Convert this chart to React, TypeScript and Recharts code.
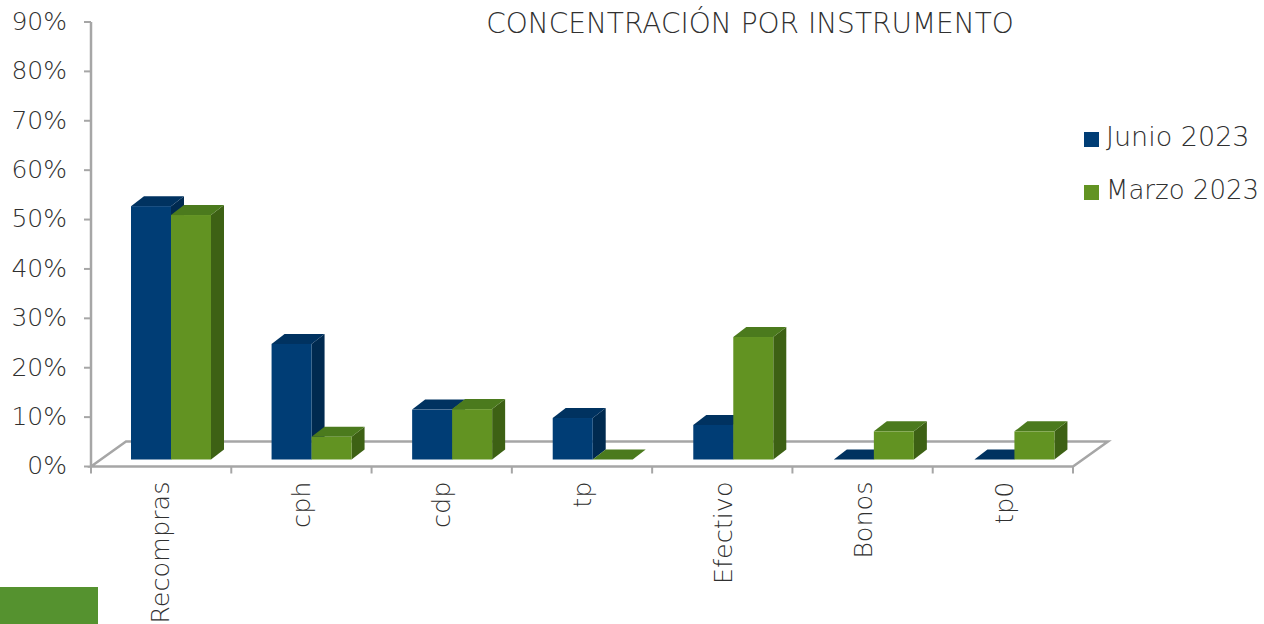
import React from "react";
import { Bar, BarChart, XAxis, YAxis, usePlotArea } from "recharts";

const categories = ["Recompras", "cph", "cdp", "tp", "Efectivo", "Bonos", "tp0"];
const junio = [51.3, 23.4, 10.1, 8.4, 7, 0, 0];
const marzo = [49.5, 4.6, 10.2, 0, 24.8, 5.7, 5.7];
const yTicks = [0, 10, 20, 30, 40, 50, 60, 70, 80, 90];

const data = categories.map((name, i) => ({ name, junio: junio[i], marzo: marzo[i] }));

const FONT = "'DejaVu Sans', sans-serif";
const TEXT_COLOR = "#303030";
const AXIS_COLOR = "#a6a6a6";
const DEPTH_X = 13;
const DEPTH_Y = 10;

const NAVY = { front: "#003d75", top: "#003260", side: "#002a50" };
const GREEN = { front: "#629322", top: "#4b7a1d", side: "#3d6114" };

const Bar3D = ({ x, y, width, height, colors }: any) => {
  // the bars stand a little inside the floor, not on its front edge
  const left = x + 10;
  const top = y - 7;
  const right = left + width;
  const bottom = top + height;
  return (
    <g>
      <polygon
        points={`${right},${top} ${right + DEPTH_X},${top - DEPTH_Y} ${right + DEPTH_X},${bottom - DEPTH_Y} ${right},${bottom}`}
        fill={colors.side}
      />
      <polygon
        points={`${left},${top} ${left + DEPTH_X},${top - DEPTH_Y} ${right + DEPTH_X},${top - DEPTH_Y} ${right},${top}`}
        fill={colors.top}
      />
      {height > 0 && <rect x={left} y={top} width={width} height={height} fill={colors.front} />}
    </g>
  );
};

const Floor = () => {
  const plot = usePlotArea();
  if (!plot) return null;
  const bottom = plot.y + plot.height;
  // plot is 2px wider than the drawn floor so the bars spread like the original
  const floorWidth = plot.width - 2;
  const right = plot.x + floorWidth;
  const step = floorWidth / categories.length;
  return (
    <g>
      <polygon
        points={`${plot.x},${bottom} ${plot.x + 35},${bottom - 25} ${right + 35},${bottom - 25} ${right},${bottom}`}
        fill="#ffffff"
        stroke={AXIS_COLOR}
        strokeWidth={2.5}
      />
      {[...categories, ""].map((_, i) => (
        <line
          key={i}
          x1={plot.x + i * step}
          x2={plot.x + i * step}
          y1={bottom}
          y2={bottom + 7}
          stroke={AXIS_COLOR}
          strokeWidth={2}
        />
      ))}
    </g>
  );
};

const CategoryTick = ({ x, y, payload }: any) => (
  <text
    transform={`translate(${x + 8},${y + 7}) rotate(-90)`}
    textAnchor="end"
    fontFamily={FONT}
    fontWeight={200}
    fontSize={25.5}
    fill={TEXT_COLOR}
  >
    {payload.value}
  </text>
);

const LegendRow = ({ top, color, label, size }: { top: number; color: string; label: string; size: number }) => (
  <>
    <div style={{ position: "absolute", left: 1084, top, width: 15, height: 15, background: color }} />
    <svg style={{ position: "absolute", left: 1106, top: top - 15, overflow: "visible" }} width={158} height={40}>
      <text x={0} y={29} fontFamily={FONT} fontWeight={200} fontSize={size} fill={TEXT_COLOR}>
        {label}
      </text>
    </svg>
  </>
);

export default function App() {
  return (
    <div style={{ position: "absolute", left: 0, top: 0, width: 1264, height: 624, overflow: "hidden", background: "#fff" }}>
      <BarChart
        width={1264}
        height={624}
        data={data}
        margin={{ top: 22, right: 189, bottom: 0, left: 0 }}
        barSize={40}
        barGap={0}
        barCategoryGap={30}
      >
        <XAxis
          dataKey="name"
          height={157.5}
          interval={0}
          tick={<CategoryTick />}
          tickLine={false}
          axisLine={false}
        />
        <YAxis
          width={91}
          domain={[0, 90]}
          ticks={yTicks}
          tickFormatter={(v: number) => `${v}%`}
          tick={{ fontFamily: FONT, fontWeight: 200, fontSize: 25, fill: TEXT_COLOR, dy: -1 }}
          tickSize={7}
          tickMargin={17}
          tickLine={{ stroke: AXIS_COLOR, strokeWidth: 2 }}
          axisLine={{ stroke: AXIS_COLOR, strokeWidth: 2.5 }}
        />
        <Floor />
        <Bar dataKey="junio" isAnimationActive={false} shape={(p: any) => <Bar3D {...p} colors={NAVY} />} />
        <Bar dataKey="marzo" isAnimationActive={false} shape={(p: any) => <Bar3D {...p} colors={GREEN} />} />
        <text x={750} y={33} textAnchor="middle" fontFamily={FONT} fontWeight={200} fontSize={28} fill={TEXT_COLOR}>
          CONCENTRACIÓN POR INSTRUMENTO
        </text>
      </BarChart>
      <LegendRow top={132} color={NAVY.front} label="Junio 2023" size={27} />
      <LegendRow top={185} color={GREEN.front} label="Marzo 2023" size={26} />
      <div style={{ position: "absolute", left: 0, top: 587, width: 98, height: 37, background: "#55922f" }} />
    </div>
  );
}
